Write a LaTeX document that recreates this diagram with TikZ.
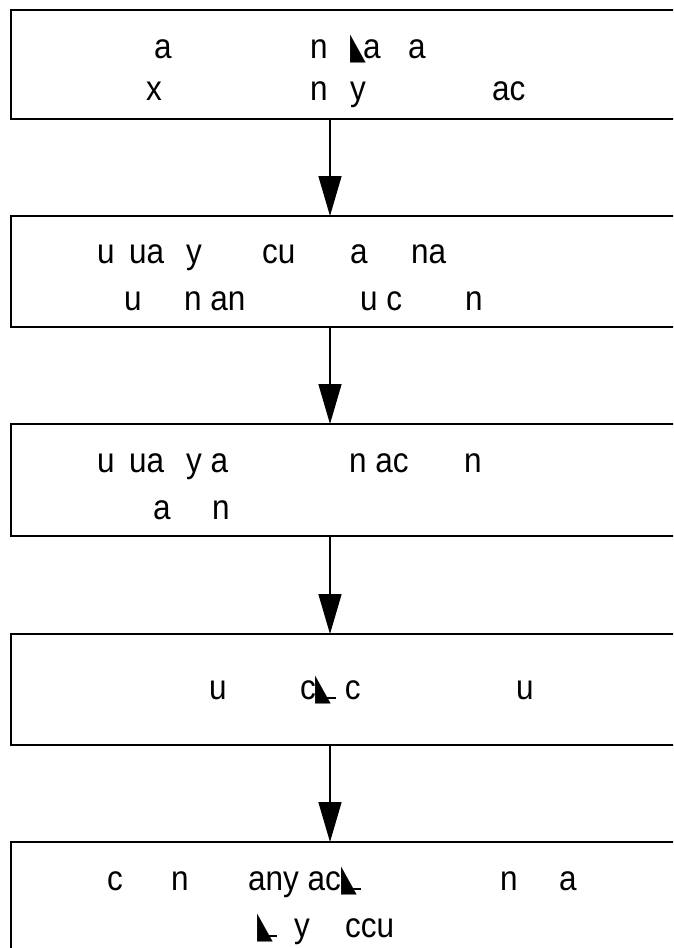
\documentclass[tikz,border=0pt]{standalone}
\usepackage{fontspec}
\usepackage{graphicx}
\setmainfont{Liberation Sans}
\newfontfamily\symfont{DejaVu Sans}
\usetikzlibrary{arrows.meta}
\newcommand{\glt}{{\symfont\scalebox{0.65}[1.05]{◣}}}
\newcommand{\gl}{\glt\kern-5pt\rule{10pt}{2.5pt}}
\newcommand{\sx}[1]{\scalebox{0.9}[1]{#1}}
\tikzset{
  stepbox/.style={draw=black, line width=2pt},
  flow/.style={draw=black, line width=1.5pt, -{Triangle[length=40pt,width=23pt]}},
  frag/.style={anchor=base west, inner sep=0pt, font=\fontsize{35}{40}\selectfont}
}
\begin{document}
\begin{tikzpicture}[x=1pt,y=-1pt]
\useasboundingbox (0,0) rectangle (673,948);
\clip (0,0) rectangle (673,948);
% boxes
\draw[stepbox] (11,10) rectangle (720,119);
\draw[stepbox] (11,216) rectangle (720,327);
\draw[stepbox] (11,424) rectangle (720,536);
\draw[stepbox] (11,634) rectangle (720,745);
\draw[stepbox] (11,842) rectangle (720,1000);
\coordinate (b1) at (330,119);
\coordinate (t2) at (330,216);
\coordinate (b2) at (330,327);
\coordinate (t3) at (330,424);
\coordinate (b3) at (330,536);
\coordinate (t4) at (330,634);
\coordinate (b4) at (330,745);
\coordinate (t5) at (330,842);
\draw[flow] (b1) -- (t2);
\draw[flow] (b2) -- (t3);
\draw[flow] (b3) -- (t4);
\draw[flow] (b4) -- (t5);
% box 1
\node[frag] (a1) at (154,58) {\sx{a}};
\node[frag] (a2) at (310,58) {\sx{n}};
\node[frag] (a3) at (350,58) {\sx{\glt\kern-3pt a}};
\node[frag] (a4) at (408,58) {\sx{a}};
\node[frag] (a5) at (146,100) {\sx{x}};
\node[frag] (a6) at (310,100) {\sx{n}};
\node[frag] (a7) at (350,100) {\sx{y}};
\node[frag] (a8) at (492,100) {\sx{ac}};
% box 2
\node[frag] (b1t) at (97,263) {\sx{u}};
\node[frag] (b1u) at (129,263) {\sx{ua}};
\node[frag] (b2t) at (186,263) {\sx{y}};
\node[frag] (b3t) at (262,263) {\sx{cu}};
\node[frag] (b4t) at (350,263) {\sx{a}};
\node[frag] (b5t) at (411,263) {\sx{na}};
\node[frag] (b6t) at (124,310) {\sx{u}};
\node[frag] (b7t) at (184,310) {\sx{n an}};
\node[frag] (b8t) at (360,310) {\sx{u c}};
\node[frag] (b9t) at (465,310) {\sx{n}};
% box 3
\node[frag] (c1t) at (97,472) {\sx{u}};
\node[frag] (c1u) at (129,472) {\sx{ua}};
\node[frag] (c2t) at (186,472) {\sx{y a}};
\node[frag] (c3t) at (349,472) {\sx{n ac}};
\node[frag] (c4t) at (464,472) {\sx{n}};
\node[frag] (c5t) at (153,519) {\sx{a}};
\node[frag] (c6t) at (212,519) {\sx{n}};
% box 4
\node[frag] (d1t) at (209,699) {\sx{u}};
\node[frag] (d2t) at (300,699) {\sx{c\gl{} c}};
\node[frag] (d3t) at (516,699) {\sx{u}};
% box 5
\node[frag] (e1t) at (107,890) {\sx{c}};
\node[frag] (e2t) at (171,890) {\sx{n}};
\node[frag] (e3t) at (248,890) {\sx{any ac\gl}};
\node[frag] (e4t) at (500,890) {\sx{n}};
\node[frag] (e5t) at (559,890) {\sx{a}};
\node[frag] (e6t) at (257,937) {\sx{\gl}};
\node[frag] (e7t) at (294,937) {\sx{y}};
\node[frag] (e8t) at (345,937) {\sx{ccu}};
\end{tikzpicture}
\end{document}
